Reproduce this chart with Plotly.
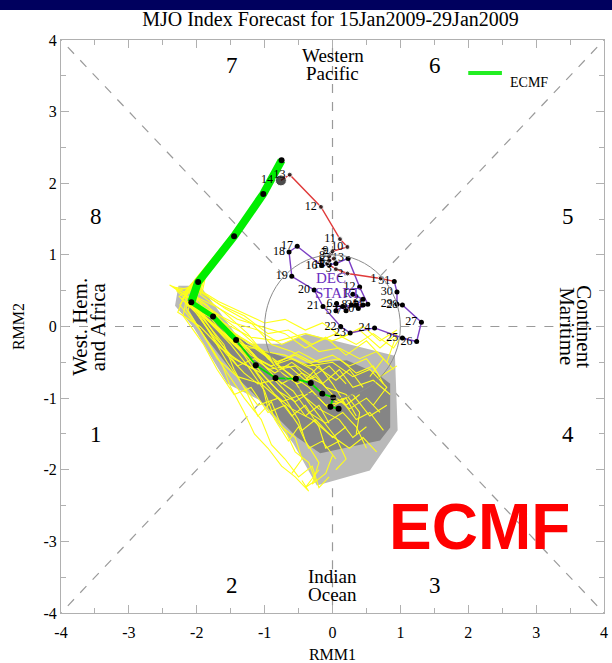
import plotly.graph_objects as go

SERIF = "Liberation Serif, Times New Roman, serif"
SANS = "Liberation Sans, Arial, sans-serif"

# ---------------- observed RMM trajectory ----------------
dec_days = [str(d) for d in range(1, 32)]
dec_x = [0.30, 0.45, 0.35, 0.15, 0.05, 0.06, 0.20, 0.28, 0.45, 0.38, 0.52, 0.40, 0.23, 0.05, -0.05, -0.16,
         -0.52, -0.64, -0.60, -0.27, -0.14, 0.12, 0.26, 0.62, 1.03, 1.24, 1.31, 1.03, 0.95, 0.95, 0.91]
dec_y = [0.45, 0.38, 0.30, 0.28, 0.22, 0.32, 0.22, 0.30, 0.30, 0.25, 0.31, 0.55, 0.95, 0.88, 0.86, 0.85,
         1.12, 1.04, 0.70, 0.51, 0.28, 0.00, -0.09, -0.02, -0.16, -0.21, 0.06, 0.30, 0.31, 0.48, 0.63]

jan_days = [str(d) for d in range(1, 15)]
jan_x = [0.71, 0.22, 0.05, -0.08, 0.02, -0.05, -0.02, -0.05, 0.00, 0.22, 0.11, -0.17, -0.63, -0.76]
jan_y = [0.67, 0.74, 0.80, 0.88, 0.95, 0.92, 1.02, 0.98, 1.05, 1.11, 1.22, 1.67, 2.12, 2.04]

# ---------------- ECMF ensemble-mean forecast ----------------
fc_x = [-0.75, -1.02, -1.45, -1.98, -2.08, -1.76, -1.42, -1.13, -0.84, -0.54, -0.32, -0.15, 0.01, -0.03, 0.09]
fc_y = [2.32, 1.85, 1.26, 0.62, 0.34, 0.14, -0.19, -0.54, -0.72, -0.73, -0.79, -0.94, -0.99, -1.12, -1.15]

# ---------------- ensemble members (x, y) ----------------
members = [
    [(-0.75,2.32),(-1.05,1.80),(-1.50,1.20),(-2.05,0.60),(-2.20,0.45),(-1.85,0.20),(-1.50,-0.10),(-1.20,-0.40),(-0.90,-0.55),(-0.60,-0.45),(-0.30,-0.60),(-0.10,-0.85),(0.20,-0.95),(0.40,-1.20),(0.35,-1.50)],
    [(-0.75,2.32),(-1.00,1.88),(-1.40,1.30),(-1.90,0.70),(-2.00,0.40),(-1.70,0.00),(-1.30,-0.35),(-1.00,-0.70),(-0.70,-1.00),(-0.50,-1.30),(-0.40,-1.60),(-0.20,-1.90),(-0.30,-2.20),(-0.10,-2.05),(0.00,-1.80)],
    [(-0.75,2.32),(-1.08,1.82),(-1.55,1.15),(-2.10,0.55),(-2.30,0.50),(-2.00,0.25),(-1.60,0.05),(-1.20,-0.15),(-0.80,-0.20),(-0.40,-0.10),(0.00,-0.20),(0.40,-0.05),(0.70,-0.30),(0.95,-0.10),(0.80,-0.50)],
    [(-0.75,2.32),(-0.98,1.90),(-1.35,1.35),(-1.85,0.75),(-2.05,0.30),(-1.80,-0.10),(-1.55,-0.50),(-1.30,-0.85),(-1.10,-1.10),(-0.80,-1.00),(-0.60,-1.25),(-0.40,-1.10),(-0.20,-1.40),(-0.10,-1.70),(0.10,-1.60)],
    [(-0.75,2.32),(-1.03,1.86),(-1.48,1.25),(-2.00,0.60),(-2.15,0.30),(-1.75,0.10),(-1.35,-0.15),(-1.00,-0.35),(-0.70,-0.40),(-0.35,-0.55),(0.00,-0.50),(0.30,-0.70),(0.55,-0.60),(0.80,-0.85),(0.60,-1.10)],
    [(-0.75,2.32),(-1.06,1.83),(-1.52,1.22),(-2.08,0.58),(-2.25,0.30),(-1.95,-0.05),(-1.70,-0.45),(-1.40,-0.70),(-1.05,-0.80),(-0.75,-1.05),(-0.45,-0.95),(-0.20,-1.15),(0.10,-1.30),(0.30,-1.55),(0.50,-1.40)],
    [(-0.75,2.32),(-1.01,1.87),(-1.42,1.28),(-1.95,0.65),(-2.10,0.38),(-1.80,0.22),(-1.45,0.05),(-1.10,-0.05),(-0.75,-0.25),(-0.50,-0.15),(-0.20,-0.35),(0.10,-0.30),(0.40,-0.45),(0.65,-0.35),(0.90,-0.60)],
    [(-0.75,2.32),(-1.04,1.84),(-1.46,1.24),(-1.98,0.60),(-2.00,0.25),(-1.65,-0.05),(-1.30,-0.40),(-1.05,-0.75),(-0.95,-1.15),(-0.70,-1.45),(-0.55,-1.75),(-0.35,-1.90),(-0.25,-2.15),(-0.40,-2.25),(-0.20,-2.00)],
    [(-0.75,2.32),(-1.07,1.81),(-1.56,1.18),(-2.12,0.52),(-2.35,0.55),(-2.05,0.35),(-1.75,0.15),(-1.50,-0.20),(-1.15,-0.30),(-0.85,-0.50),(-0.55,-0.40),(-0.25,-0.55),(0.05,-0.75),(0.25,-0.60),(0.45,-0.85)],
    [(-0.75,2.32),(-0.99,1.89),(-1.38,1.32),(-1.88,0.72),(-1.95,0.45),(-1.60,0.20),(-1.25,-0.10),(-0.95,-0.45),(-0.65,-0.65),(-0.35,-0.85),(-0.10,-1.10),(0.15,-1.05),(0.35,-1.30),(0.55,-1.20),(0.75,-1.45)],
    [(-0.75,2.32),(-1.05,1.83),(-1.50,1.20),(-2.02,0.58),(-2.18,0.40),(-1.90,0.10),(-1.60,-0.25),(-1.45,-0.60),(-1.25,-0.95),(-1.10,-1.25),(-0.90,-1.05),(-0.75,-1.40),(-0.55,-1.55),(-0.45,-1.85),(-0.60,-2.05)],
    [(-0.75,2.32),(-1.02,1.85),(-1.44,1.27),(-1.96,0.63),(-2.05,0.35),(-1.70,0.15),(-1.35,-0.20),(-1.05,-0.50),(-0.75,-0.80),(-0.45,-0.65),(-0.15,-0.80),(0.10,-0.60),(0.30,-0.85),(0.60,-0.75),(0.85,-0.95)],
    [(-0.75,2.32),(-1.00,1.87),(-1.40,1.29),(-1.92,0.68),(-2.12,0.48),(-1.85,0.30),(-1.55,-0.05),(-1.20,-0.25),(-0.90,-0.45),(-0.60,-0.70),(-0.40,-1.00),(-0.15,-1.30),(0.05,-1.55),(0.20,-1.85),(0.05,-2.00)],
    [(-0.75,2.32),(-1.09,1.80),(-1.58,1.16),(-2.15,0.50),(-2.28,0.20),(-1.95,0.00),(-1.65,-0.30),(-1.35,-0.50),(-1.05,-0.65),(-0.80,-0.90),(-0.55,-1.05),(-0.30,-0.90),(-0.05,-1.15),(0.20,-1.00),(0.35,-1.25)],
    [(-0.75,2.32),(-1.03,1.84),(-1.47,1.23),(-2.00,0.62),(-2.10,0.30),(-1.80,0.05),(-1.50,-0.25),(-1.25,-0.55),(-1.00,-0.90),(-0.85,-1.30),(-0.65,-1.60),(-0.50,-1.40),(-0.35,-1.70),(-0.15,-1.60),(0.05,-1.85)],
    [(-0.75,2.32),(-1.01,1.86),(-1.43,1.26),(-1.94,0.66),(-2.02,0.42),(-1.72,0.28),(-1.40,0.10),(-1.05,0.00),(-0.70,-0.10),(-0.40,-0.30),(-0.10,-0.15),(0.20,-0.40),(0.50,-0.20),(0.75,-0.45),(0.55,-0.70)],
    [(-0.75,2.32),(-1.06,1.82),(-1.53,1.19),(-2.06,0.56),(-2.22,0.38),(-1.90,0.15),(-1.55,-0.15),(-1.25,-0.30),(-0.95,-0.60),(-0.65,-0.55),(-0.40,-0.75),(-0.20,-0.55),(0.00,-0.80),(0.20,-1.10),(0.40,-0.95)],
    [(-0.75,2.32),(-1.02,1.86),(-1.45,1.27),(-1.97,0.64),(-2.08,0.28),(-1.78,-0.10),(-1.45,-0.45),(-1.15,-0.60),(-0.85,-0.95),(-0.60,-1.15),(-0.30,-1.30),(-0.05,-1.50),(0.25,-1.70),(0.45,-1.55),(0.65,-1.75)],
    [(-0.75,2.32),(-1.04,1.83),(-1.49,1.21),(-2.03,0.57),(-2.16,0.25),(-1.88,-0.15),(-1.62,-0.55),(-1.50,-0.85),(-1.30,-1.20),(-1.15,-1.50),(-0.95,-1.70),(-0.75,-1.95),(-0.55,-2.10),(-0.35,-2.30),(-0.45,-2.15)],
    [(-0.75,2.32),(-1.00,1.88),(-1.41,1.30),(-1.91,0.69),(-1.98,0.50),(-1.65,0.30),(-1.30,0.15),(-0.95,-0.10),(-0.65,-0.05),(-0.30,-0.25),(0.05,-0.10),(0.35,-0.25),(0.60,-0.10),(0.90,-0.30),(1.00,-0.15)],
    [(-0.75,2.32),(-1.05,1.84),(-1.51,1.22),(-2.04,0.59),(-2.12,0.33),(-1.82,0.08),(-1.48,-0.20),(-1.18,-0.50),(-0.88,-0.70),(-0.58,-0.90),(-0.35,-1.20),(-0.10,-1.35),(0.15,-1.20),(0.35,-1.40),(0.50,-1.70)],
    [(-0.75,2.32),(-1.03,1.85),(-1.46,1.25),(-1.99,0.61),(-2.06,0.38),(-1.74,0.12),(-1.42,-0.15),(-1.12,-0.45),(-0.82,-0.60),(-0.52,-0.80),(-0.25,-0.70),(0.00,-0.95),(0.25,-1.15),(0.50,-1.00),(0.70,-1.20)],
    [(-0.75,2.32),(-1.07,1.82),(-1.54,1.20),(-2.09,0.55),(-2.26,0.42),(-2.00,0.18),(-1.72,-0.20),(-1.55,-0.40),(-1.30,-0.65),(-1.10,-0.80),(-0.85,-0.75),(-0.60,-1.00),(-0.40,-1.25),(-0.20,-1.10),(-0.05,-1.35)],
    [(-0.75,2.32),(-0.97,1.91),(-1.36,1.34),(-1.86,0.74),(-1.92,0.48),(-1.58,0.25),(-1.20,0.05),(-0.90,-0.25),(-0.60,-0.35),(-0.30,-0.50),(0.00,-0.40),(0.25,-0.55),(0.50,-0.45),(0.70,-0.70),(0.95,-0.55)],
    [(-0.75,2.32),(-1.10,1.78),(-1.62,1.12),(-2.18,0.48),(-2.40,0.58),(-2.10,0.40),(-1.85,0.05),(-1.60,-0.30),(-1.40,-0.55),(-1.15,-0.45),(-0.85,-0.65),(-0.60,-0.50),(-0.30,-0.70),(-0.05,-0.55),(0.20,-0.80)],
    [(-0.75,2.32),(-0.96,1.92),(-1.33,1.37),(-1.83,0.78),(-2.02,0.55),(-1.68,0.35),(-1.35,0.20),(-1.00,0.05),(-0.70,0.10),(-0.40,-0.05),(-0.15,0.05),(0.15,-0.15),(0.45,0.00),(0.70,-0.20),(0.95,-0.05)],
    [(-0.75,2.32),(-1.04,1.85),(-1.47,1.24),(-2.01,0.61),(-2.13,0.22),(-1.85,-0.20),(-1.55,-0.65),(-1.30,-1.00),(-1.05,-1.30),(-0.90,-1.65),(-0.70,-1.85),(-0.50,-2.10),(-0.30,-1.95),(-0.20,-2.25),(-0.05,-2.10)],
    [(-0.75,2.32),(-1.02,1.86),(-1.45,1.26),(-1.97,0.63),(-2.07,0.32),(-1.75,0.00),(-1.40,-0.30),(-1.10,-0.30),(-0.80,-0.50),(-0.50,-0.35),(-0.20,-0.50),(0.10,-0.45),(0.35,-0.65),(0.60,-0.55),(0.75,-0.80)],
    [(-0.75,2.32),(-1.08,1.81),(-1.57,1.17),(-2.13,0.51),(-2.20,0.15),(-1.90,-0.25),(-1.70,-0.60),(-1.45,-0.95),(-1.20,-0.85),(-0.95,-1.20),(-0.70,-1.10),(-0.45,-1.45),(-0.25,-1.30),(0.00,-1.55),(0.20,-1.40)],
    [(-0.75,2.32),(-1.01,1.87),(-1.42,1.29),(-1.93,0.67),(-2.03,0.40),(-1.70,0.18),(-1.38,-0.05),(-1.08,-0.30),(-0.80,-0.60),(-0.55,-0.55),(-0.25,-0.85),(0.05,-1.05),(0.30,-0.95),(0.55,-1.25),(0.80,-1.10)],
]

# ---------------- ensemble spread envelopes ----------------
light_x = [-2.27, -1.95, -1.32, -0.73, -0.38, 0.92, 0.96, 0.55, -0.23, -0.58, -1.07, -1.55, -2.05, -2.32]
light_y = [0.57, 0.57, -0.24, -0.24, -0.10, -0.41, -1.45, -2.01, -2.22, -1.63, -1.03, -0.80, -0.01, 0.29]
dark_x = [-2.05, -1.21, -0.43, 0.21, 0.66, 0.85, 0.85, 0.70, -0.18, -0.52, -0.92, -1.41, -1.91, -2.14]
dark_y = [0.36, -0.27, -0.52, -0.47, -0.66, -0.80, -1.41, -1.59, -1.77, -1.55, -1.17, -0.71, -0.10, 0.27]

# ---------------- text labels ----------------
phase_labels = ["1", "2", "3", "4", "5", "6", "7", "8"]
phase_x = [-3.48, -1.48, 1.51, 3.47, 3.47, 1.51, -1.48, -3.48]
phase_y = [-1.51, -3.62, -3.62, -1.51, 1.53, 3.64, 3.64, 1.53]

fig = go.Figure()

# envelopes
fig.add_trace(go.Scatter(x=light_x, y=light_y, fill="toself", mode="none",
                         fillcolor="#b9b9b9", hoverinfo="skip"))
fig.add_trace(go.Scatter(x=dark_x, y=dark_y, fill="toself", mode="none",
                         fillcolor="#858585", hoverinfo="skip"))

# ensemble members
for m in members:
    fig.add_trace(go.Scatter(x=[p[0] for p in m], y=[p[1] for p in m], mode="lines",
                             line=dict(color="#ffff1a", width=1.1), hoverinfo="skip"))

# ensemble mean (thick then thin)
fig.add_trace(go.Scatter(x=fc_x[:5], y=fc_y[:5], mode="lines",
                         line=dict(color="#00ee00", width=8)))
fig.add_trace(go.Scatter(x=fc_x[4:7], y=fc_y[4:7], mode="lines",
                         line=dict(color="#00ee00", width=5)))
fig.add_trace(go.Scatter(x=fc_x[6:], y=fc_y[6:], mode="lines",
                         line=dict(color="#00dd00", width=1.8)))
fig.add_trace(go.Scatter(x=fc_x, y=fc_y, mode="markers",
                         marker=dict(color="black", size=6)))

# observed December (purple) and January (red)
fig.add_trace(go.Scatter(x=dec_x, y=dec_y, mode="lines",
                         line=dict(color="#7b3fc4", width=1.4)))
fig.add_trace(go.Scatter(x=[dec_x[-1]] + jan_x, y=[dec_y[-1]] + jan_y, mode="lines",
                         line=dict(color="#e03a3a", width=1.4)))
fig.add_trace(go.Scatter(x=dec_x, y=dec_y, mode="markers+text", text=dec_days,
                         textposition="middle left",
                         textfont=dict(family=SERIF, size=12, color="black"),
                         marker=dict(color="black", size=5)))
fig.add_trace(go.Scatter(x=jan_x, y=jan_y, mode="markers+text", text=jan_days,
                         textposition="middle left",
                         textfont=dict(family=SERIF, size=12, color="black"),
                         marker=dict(color="black", size=[5] * 13 + [11])))

# reference dashed lines (outside unit circle)
dash = dict(color="#9a9a9a", width=1.2, dash="dash")
r = 0.7071
segs = [(-4, 0, -1, 0), (1, 0, 4, 0), (0, 1, 0, 4), (0, -1, 0, -4),
        (r, r, 4, 4), (-r, r, -4, 4), (r, -r, 4, -4), (-r, -r, -4, -4)]
for x0, y0, x1, y1 in segs:
    fig.add_shape(type="line", x0=x0, y0=y0, x1=x1, y1=y1, line=dash, layer="below")
fig.add_shape(type="circle", x0=-1, y0=-1, x1=1, y1=1,
              line=dict(color="#8c8c8c", width=1), layer="above")

# phase numbers
for t, px, py in zip(phase_labels, phase_x, phase_y):
    fig.add_annotation(x=px, y=py, text=t, showarrow=False,
                       font=dict(family=SERIF, size=23, color="black"))

# region names
region_font = dict(family=SERIF, size=19, color="black")
side_font = dict(family=SERIF, size=21, color="black")
fig.add_annotation(x=0, y=3.78, text="Western", showarrow=False, font=region_font)
fig.add_annotation(x=0, y=3.53, text="Pacific", showarrow=False, font=region_font)
fig.add_annotation(x=0, y=-3.49, text="Indian", showarrow=False, font=region_font)
fig.add_annotation(x=0, y=-3.74, text="Ocean", showarrow=False, font=region_font)
fig.add_annotation(x=-3.73, y=0, text="West. Hem.", textangle=-90, showarrow=False,
                   xanchor="center", yanchor="middle", font=side_font)
fig.add_annotation(x=-3.46, y=0, text="and Africa", textangle=-90, showarrow=False,
                   xanchor="center", yanchor="middle", font=side_font)
fig.add_annotation(x=3.46, y=0, text="Maritime", textangle=90, showarrow=False,
                   xanchor="center", yanchor="middle", font=side_font)
fig.add_annotation(x=3.71, y=0, text="Continent", textangle=90, showarrow=False,
                   xanchor="center", yanchor="middle", font=side_font)

# DEC START
fig.add_annotation(x=-0.02, y=0.68, text="DEC", showarrow=False,
                   font=dict(family=SERIF, size=15, color="#6a2fc0"))
fig.add_annotation(x=0.07, y=0.47, text="START", showarrow=False,
                   font=dict(family=SERIF, size=15, color="#6a2fc0"))

# big red model name
fig.add_annotation(x=2.17, y=-2.80, text="ECMF", showarrow=False,
                   font=dict(family=SANS, size=64, color="#ff0000", weight="bold"))

# legend (line sample + text)
fig.add_shape(type="line", xref="paper", yref="paper", x0=0.750, x1=0.812, y0=0.9424, y1=0.9424,
              line=dict(color="#22ee22", width=4))
fig.add_annotation(xref="paper", yref="paper", x=0.824, y=0.9424, text="ECMF",
                   xanchor="left", showarrow=False,
                   font=dict(family=SERIF, size=14, color="black"))

# navy band at top
fig.add_shape(type="rect", xref="paper", yref="paper", x0=-0.2, x1=1.2,
              y0=1.0524, y1=1.2, fillcolor="#00005e", line=dict(width=0), layer="above")

ticks = [-4, -3, -2, -1, 0, 1, 2, 3, 4]
axis_common = dict(range=[-4, 4], tickvals=ticks, ticktext=[str(t) for t in ticks],
                   ticks="inside", ticklen=8, tickcolor="#b0b0b0", tickwidth=1,
                   showline=True, linecolor="#b0b0b0", linewidth=1, mirror="ticks",
                   showgrid=False, zeroline=False, automargin=False,
                   minor=dict(tickvals=[-3.5, -2.5, -1.5, -0.5, 0.5, 1.5, 2.5, 3.5],
                              ticks="inside", ticklen=5, tickcolor="#b0b0b0"),
                   tickfont=dict(family=SERIF, size=16, color="black"))

fig.update_layout(
    width=612, height=663,
    margin=dict(l=61, r=8, t=40, b=50, autoexpand=False),
    paper_bgcolor="white", plot_bgcolor="white",
    showlegend=False,
    title=dict(text="MJO Index Forecast for 15Jan2009-29Jan2009", x=0.54, xanchor="center",
               y=0.972, yanchor="middle", yref="container",
               font=dict(family=SERIF, size=20, color="black")),
    xaxis=dict(**axis_common, ticklabelstandoff=5,
               title=dict(text="RMM1", standoff=9,
                          font=dict(family=SERIF, size=16, color="black"))),
    yaxis=dict(**axis_common, title=dict(text="RMM2", standoff=14,
                                         font=dict(family=SERIF, size=16, color="black"))),
)

fig.write_html("out.html")
